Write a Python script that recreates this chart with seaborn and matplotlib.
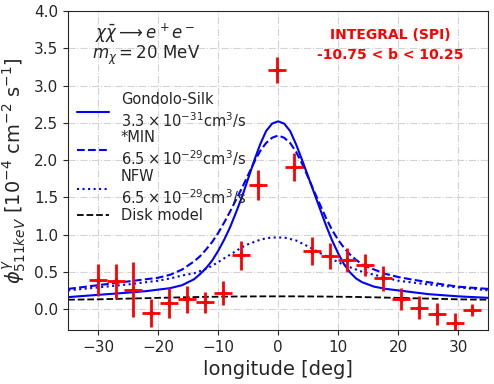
import numpy as np
import pandas as pd
import seaborn as sns
import matplotlib
matplotlib.use('Agg')
import matplotlib.pyplot as plt

# SPI data points
lon_data = [-30.1, -27.1, -24.2, -21.2, -18.2, -15.2, -12.2, -9.2, -6.2, -3.3, -0.2,
            2.7, 5.6, 8.6, 11.5, 14.5, 17.5, 20.5, 23.5, 26.5, 29.5, 32.4]
flux_data = [0.39, 0.37, 0.26, -0.05, 0.08, 0.13, 0.09, 0.22, 0.72, 1.67, 3.21,
             1.91, 0.78, 0.71, 0.66, 0.59, 0.41, 0.13, 0.02, -0.07, -0.19, -0.01]
flux_err = [0.21, 0.23, 0.37, 0.19, 0.20, 0.18, 0.14, 0.16, 0.19, 0.20, 0.17,
            0.19, 0.19, 0.17, 0.16, 0.15, 0.17, 0.15, 0.15, 0.15, 0.13, 0.08]
lon_err = 1.5

# model curves
lon_model = [-35, -30, -25, -22, -20, -18, -16, -14, -13,
             -12, -11, -10, -9, -8, -7, -6, -5, -4, -3, -2, -1, 0,
             1, 2, 3, 4, 5, 6, 7, 8, 9, 10, 11, 12,
             13, 14, 16, 18, 20, 22, 25, 30, 35]
gondolo_silk = [0.16, 0.19, 0.22, 0.24, 0.26, 0.28, 0.32, 0.40, 0.47,
                0.55, 0.65, 0.78, 0.93, 1.10, 1.30, 1.51, 1.75, 1.99, 2.21, 2.39, 2.49, 2.52,
                2.49, 2.39, 2.21, 2.00, 1.78, 1.56, 1.34, 1.12, 0.92, 0.75, 0.60, 0.49,
                0.41, 0.36, 0.30, 0.27, 0.25, 0.23, 0.20, 0.17, 0.15]
min_model = [0.27, 0.32, 0.37, 0.40, 0.42, 0.46, 0.53, 0.64, 0.71,
             0.80, 0.90, 1.02, 1.16, 1.31, 1.47, 1.63, 1.80, 1.97, 2.12, 2.23, 2.30, 2.33,
             2.30, 2.23, 2.11, 1.95, 1.77, 1.58, 1.40, 1.22, 1.06, 0.93, 0.82, 0.73,
             0.66, 0.60, 0.53, 0.47, 0.43, 0.40, 0.36, 0.30, 0.27]
nfw = [0.25, 0.29, 0.33, 0.36, 0.38, 0.41, 0.45, 0.48, 0.51,
       0.54, 0.58, 0.63, 0.68, 0.73, 0.78, 0.83, 0.87, 0.90, 0.93, 0.95, 0.96, 0.96,
       0.96, 0.94, 0.92, 0.88, 0.84, 0.80, 0.75, 0.71, 0.67, 0.63, 0.59, 0.56,
       0.53, 0.50, 0.46, 0.42, 0.38, 0.36, 0.33, 0.29, 0.25]
disk = [0.125, 0.13, 0.14, 0.145, 0.15, 0.153, 0.157, 0.16, 0.162,
        0.163, 0.164, 0.165, 0.166, 0.167, 0.168, 0.168, 0.169, 0.169, 0.17, 0.17, 0.17, 0.17,
        0.17, 0.17, 0.17, 0.169, 0.169, 0.168, 0.168, 0.167, 0.166, 0.165, 0.164, 0.163,
        0.162, 0.16, 0.157, 0.153, 0.15, 0.145, 0.14, 0.13, 0.125]

df = pd.DataFrame({'lon': lon_model, 'gs': gondolo_silk, 'min': min_model,
                   'nfw': nfw, 'disk': disk})

sns.set_style('ticks')
fig = plt.figure(figsize=(4.94, 3.84), dpi=100)
ax = fig.add_axes([0.138, 0.141, 0.850, 0.830])

sns.lineplot(data=df, x='lon', y='gs', ax=ax, color='blue', lw=1.5,
             label='Gondolo-Silk\n$3.3\\times10^{-31}$cm$^3$/s')
sns.lineplot(data=df, x='lon', y='min', ax=ax, color='blue', lw=1.5, ls='--',
             label='*MIN\n$6.5\\times10^{-29}$cm$^3$/s')
sns.lineplot(data=df, x='lon', y='nfw', ax=ax, color='blue', lw=1.5, ls=':',
             label='NFW\n$6.5\\times10^{-29}$cm$^3$/s')
sns.lineplot(data=df, x='lon', y='disk', ax=ax, color='black', lw=1.3, ls='--',
             label='Disk model')

ax.errorbar(lon_data, flux_data, xerr=lon_err, yerr=flux_err, fmt='+', color='red',
            ms=5, mew=2, elinewidth=2, capsize=0, zorder=5)

ax.set_xlim(-35, 35)
ax.set_ylim(-0.28, 4.0)
ax.grid(True, ls='-.', color='lightgray', lw=0.8)
ax.tick_params(labelsize=11)
ax.set_xlabel('longitude [deg]', fontsize=14)
ax.set_ylabel('$\\phi^{\\gamma}_{511keV}$ [10$^{-4}$ cm$^{-2}$ s$^{-1}$]', fontsize=14)

ax.text(0.065, 0.93, '$\\chi\\bar{\\chi} \\longrightarrow e^+e^-$', transform=ax.transAxes,
        fontsize=12, va='center')
ax.text(0.057, 0.86, '$m_\\chi = 20$ MeV', transform=ax.transAxes, fontsize=12, va='center')
ax.text(0.767, 0.925, 'INTEGRAL (SPI)', transform=ax.transAxes, fontsize=10,
        color='red', fontweight='bold', ha='center', va='center')
ax.text(0.767, 0.862, '-10.75 < b < 10.25', transform=ax.transAxes, fontsize=10,
        color='red', fontweight='bold', ha='center', va='center')

ax.legend(loc='upper left', bbox_to_anchor=(0.0, 0.775), frameon=False, fontsize=10.5,
          handlelength=2.2, labelspacing=0.05, borderaxespad=0.2)

fig.savefig('out.png', dpi=100)
